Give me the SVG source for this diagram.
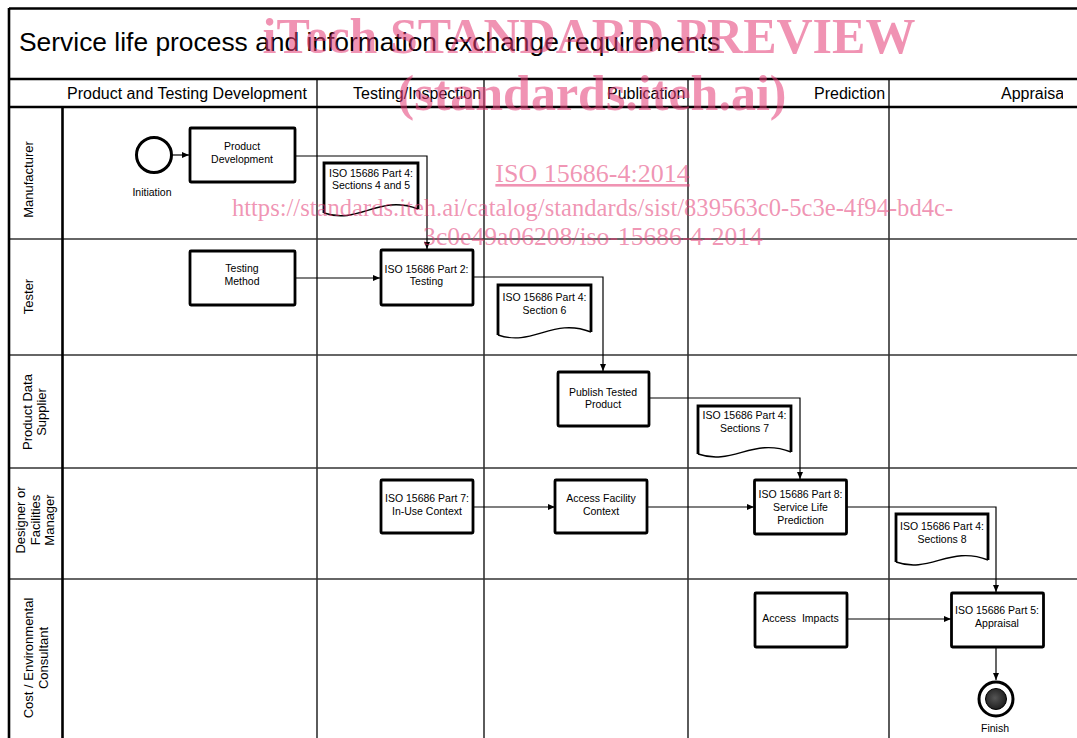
<svg xmlns="http://www.w3.org/2000/svg" width="1077" height="738" viewBox="0 0 1077 738">
<style>
.frame{stroke:#000;stroke-width:2.6;fill:none}
.lane{stroke:#333;stroke-width:1.6;fill:none}
.box{fill:#fff;stroke:#000;stroke-width:2.8}
.wave{fill:none;stroke:#000;stroke-width:1.4}
.conn{fill:none;stroke:#000;stroke-width:1.2}
.t{font-family:"Liberation Sans",Arial,sans-serif;fill:#000}
.nt{font-family:"Liberation Sans",Arial,sans-serif;font-size:10.5px;fill:#000;text-anchor:middle}
.hd{font-family:"Liberation Sans",Arial,sans-serif;font-size:16px;fill:#000}
.ll{font-family:"Liberation Sans",Arial,sans-serif;font-size:13px;fill:#000;text-anchor:middle}
.wm{font-family:"Liberation Serif","Times New Roman",serif;fill:#e33a74;fill-opacity:0.55;text-anchor:middle}
</style>
<defs>
<marker id="arr" markerUnits="userSpaceOnUse" markerWidth="8" markerHeight="7" refX="7" refY="3" orient="auto">
<path d="M0,0 L7,3 L0,6 z" fill="#000"/>
</marker>
<radialGradient id="fin" cx="0.45" cy="0.45" r="0.6">
<stop offset="0" stop-color="#555"/>
<stop offset="1" stop-color="#1a1a1a"/>
</radialGradient>
<clipPath id="hdclip"><rect x="889" y="79" width="174" height="28"/></clipPath>
</defs>

<g id="frame">
<line class="lane" x1="10" y1="239" x2="1077" y2="239"/>
<line class="lane" x1="10" y1="355" x2="1077" y2="355"/>
<line class="lane" x1="10" y1="468" x2="1077" y2="468"/>
<line class="lane" x1="10" y1="579" x2="1077" y2="579"/>
<line class="lane" x1="317" y1="79" x2="317" y2="738"/>
<line class="lane" x1="484" y1="79" x2="484" y2="738"/>
<line class="lane" x1="688" y1="79" x2="688" y2="738"/>
<line class="lane" x1="889" y1="79" x2="889" y2="738"/>
<line class="frame" x1="9" y1="8.5" x2="1077" y2="8.5"/>
<line class="frame" x1="9" y1="8" x2="9" y2="738"/>
<line class="frame" x1="9" y1="79" x2="1077" y2="79"/>
<line class="frame" x1="9" y1="107" x2="1077" y2="107"/>
<line class="frame" x1="62.5" y1="107" x2="62.5" y2="738"/>
<text class="t" x="19" y="51" font-size="26.4">Service life process and information exchange requirements</text>
<text class="hd" x="67" y="99">Product and Testing Development</text>
<text class="hd" x="353" y="99">Testing/Inspection</text>
<text class="hd" x="607" y="99">Publication</text>
<text class="hd" x="814" y="99">Prediction</text>
<text class="hd" x="1001" y="99" clip-path="url(#hdclip)">Appraisal</text>
</g>

<g id="lane-labels">
<text class="ll" transform="translate(33,179.5) rotate(-90)">Manufacturer</text>
<text class="ll" transform="translate(33,296.5) rotate(-90)">Tester</text>
<text class="ll" transform="translate(32,412) rotate(-90)"><tspan x="0" y="0">Product Data</tspan><tspan x="0" y="13.5">Supplier</tspan></text>
<text class="ll" transform="translate(25,520) rotate(-90)"><tspan x="0" y="0">Designer or</tspan><tspan x="0" y="14.5">Facilities</tspan><tspan x="0" y="29">Manager</tspan></text>
<text class="ll" transform="translate(33,658) rotate(-90)"><tspan x="0" y="0">Cost / Environmental</tspan><tspan x="0" y="15">Consultant</tspan></text>
</g>

<g id="connectors">
<path class="conn" d="M172,155 L189,155" marker-end="url(#arr)"/>
<path class="conn" d="M296,156 L427,156 L427,249" marker-end="url(#arr)"/>
<path class="conn" d="M296,278 L380,278" marker-end="url(#arr)"/>
<path class="conn" d="M473,277 L603,277 L603,371" marker-end="url(#arr)"/>
<path class="conn" d="M649,398 L800,398 L800,479" marker-end="url(#arr)"/>
<path class="conn" d="M473,507 L555,507" marker-end="url(#arr)"/>
<path class="conn" d="M647,507 L754,507" marker-end="url(#arr)"/>
<path class="conn" d="M847,507 L996,507 L996,592" marker-end="url(#arr)"/>
<path class="conn" d="M847,619 L951,619" marker-end="url(#arr)"/>
<path class="conn" d="M996,647 L996,680" marker-end="url(#arr)"/>
</g>

<g id="initiation">
<circle cx="154" cy="155" r="17.5" fill="#fff" stroke="#000" stroke-width="3"/>
<text class="nt" x="152" y="196">Initiation</text>
</g>

<g id="product-development">
<rect class="box" x="190" y="128" width="105" height="54" rx="1"/>
<text class="nt" x="242" y="150">Product</text>
<text class="nt" x="242" y="163">Development</text>
</g>

<g id="doc-sections-4-5">
<path d="M324,213 L324,163 L418,163 L418,209 C379,194 359,224 324,213 Z" fill="#fff" stroke="none"/>
<path d="M324,213 L324,163 L418,163 L418,209" fill="none" stroke="#000" stroke-width="2.8"/>
<path class="wave" d="M324,213 C359,225 379,194 418,209"/>
<text class="nt" x="371" y="176.5">ISO 15686 Part 4:</text>
<text class="nt" x="371" y="189">Sections 4 and 5</text>
</g>

<g id="testing-method">
<rect class="box" x="190" y="251" width="105" height="54" rx="1"/>
<text class="nt" x="242" y="272">Testing</text>
<text class="nt" x="242" y="285">Method</text>
</g>

<g id="part2-testing">
<rect class="box" x="381" y="250" width="92" height="55" rx="1"/>
<text class="nt" x="426.5" y="272.5">ISO 15686 Part 2:</text>
<text class="nt" x="426.5" y="285">Testing</text>
</g>

<g id="doc-section-6">
<path d="M498,335 L498,285 L591,285 L591,332 C553,317 533,347 498,335 Z" fill="#fff" stroke="none"/>
<path d="M498,335 L498,285 L591,285 L591,332" fill="none" stroke="#000" stroke-width="2.8"/>
<path class="wave" d="M498,335 C533,347 553,317 591,332"/>
<text class="nt" x="544.5" y="300.5">ISO 15686 Part 4:</text>
<text class="nt" x="544.5" y="314">Section 6</text>
</g>

<g id="publish-tested-product">
<rect class="box" x="558" y="372" width="91" height="54" rx="1"/>
<text class="nt" x="603" y="395.5">Publish Tested</text>
<text class="nt" x="603" y="408.3">Product</text>
</g>

<g id="doc-sections-7">
<path d="M698,454 L698,406 L791,406 L791,452 C753,437 733,466 698,454 Z" fill="#fff" stroke="none"/>
<path d="M698,454 L698,406 L791,406 L791,452" fill="none" stroke="#000" stroke-width="2.8"/>
<path class="wave" d="M698,454 C733,466 753,437 791,452"/>
<text class="nt" x="744.5" y="419.3">ISO 15686 Part 4:</text>
<text class="nt" x="744.5" y="432">Sections 7</text>
</g>

<g id="part7-in-use">
<rect class="box" x="381" y="480" width="92" height="53" rx="1"/>
<text class="nt" x="427" y="502.3">ISO 15686 Part 7:</text>
<text class="nt" x="427" y="515">In-Use Context</text>
</g>

<g id="access-facility-context">
<rect class="box" x="555" y="480" width="92" height="53" rx="1"/>
<text class="nt" x="601" y="502.3">Access Facility</text>
<text class="nt" x="601" y="515">Context</text>
</g>

<g id="part8-slp">
<rect class="box" x="754.5" y="480" width="92" height="54" rx="1"/>
<text class="nt" x="800.5" y="498.3">ISO 15686 Part 8:</text>
<text class="nt" x="800.5" y="511">Service Life</text>
<text class="nt" x="800.5" y="524">Prediction</text>
</g>

<g id="doc-sections-8">
<path d="M896,562 L896,514 L988,514 L988,560 C950,545 930,574 896,562 Z" fill="#fff" stroke="none"/>
<path d="M896,562 L896,514 L988,514 L988,560" fill="none" stroke="#000" stroke-width="2.8"/>
<path class="wave" d="M896,562 C930,574 950,545 988,560"/>
<text class="nt" x="942" y="530">ISO 15686 Part 4:</text>
<text class="nt" x="942" y="542.7">Sections 8</text>
</g>

<g id="access-impacts">
<rect class="box" x="755" y="593" width="92" height="54" rx="1"/>
<text class="nt" x="800.5" y="621.7" xml:space="preserve">Access  Impacts</text>
</g>

<g id="part5-appraisal">
<rect class="box" x="951.5" y="593" width="92" height="54" rx="1"/>
<text class="nt" x="997" y="614">ISO 15686 Part 5:</text>
<text class="nt" x="997" y="627">Appraisal</text>
</g>

<g id="finish">
<circle cx="996" cy="699" r="17" fill="#fff" stroke="#000" stroke-width="3"/>
<circle cx="996" cy="699" r="10.5" fill="url(#fin)" stroke="#000" stroke-width="1"/>
<text class="nt" x="995" y="731.5">Finish</text>
</g>

<g id="watermark">
<text class="wm" x="589" y="53" font-size="50" font-weight="bold">iTech STANDARD PREVIEW</text>
<text class="wm" x="592" y="110" font-size="50" font-weight="bold">(standards.iteh.ai)</text>
<text class="wm" x="592.5" y="182" font-size="26" text-decoration="underline">ISO 15686-4:2014</text>
<text class="wm" x="592.5" y="216" font-size="24.6">https://standards.iteh.ai/catalog/standards/sist/839563c0-5c3e-4f94-bd4c-</text>
<text class="wm" x="593" y="245" font-size="25.6">3c0e49a06208/iso-15686-4-2014</text>
</g>
</svg>
